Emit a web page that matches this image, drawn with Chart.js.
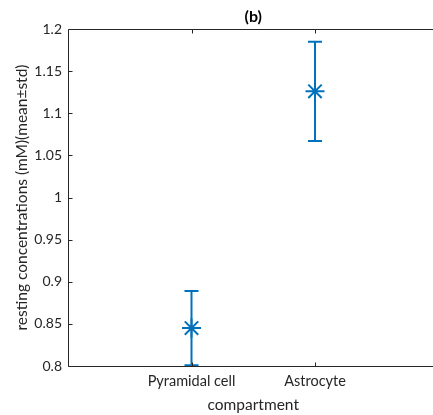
<!DOCTYPE html>
<html>
<head>
<meta charset="utf-8">
<script src="https://cdn.jsdelivr.net/npm/chart.js@4.4.1/dist/chart.umd.min.js"></script>
<style>
  html, body { margin: 0; padding: 0; background: #fff; overflow: hidden; }
  #wrap { width: 433px; height: 415px; overflow: hidden; }
</style>
</head>
<body>
<div id="wrap"><canvas id="chart" width="450" height="415"></canvas></div>
<script>
// data
const categories = ['Pyramidal cell', 'Astrocyte'];
const positions = [1, 2];
const means = [0.845, 1.126];
const stds = [0.044, 0.059];
const yTicks = [0.8, 0.85, 0.9, 0.95, 1, 1.05, 1.1, 1.15, 1.2];

const blue = '#0072BD';
const axisGray = '#262626';
const font = 'Lato';

// vertical error bars with caps, drawn through the scales
const errorBars = {
    id: 'errorBars',
    beforeDatasetsDraw(chart) {
        const ctx = chart.ctx, xs = chart.scales.x, ys = chart.scales.y;
        ctx.save();
        ctx.strokeStyle = blue;
        ctx.lineWidth = 2;
        positions.forEach(function(p, i){
            const x = xs.getPixelForValue(p);
            const yTop = ys.getPixelForValue(means[i] + stds[i]);
            const yBot = ys.getPixelForValue(means[i] - stds[i]);
            ctx.beginPath();
            ctx.moveTo(x, yTop); ctx.lineTo(x, yBot);
            ctx.moveTo(x - 7, yTop); ctx.lineTo(x + 7, yTop);
            ctx.moveTo(x - 7, yBot); ctx.lineTo(x + 7, yBot);
            ctx.stroke();
        });
        ctx.restore();
    }
};

// MATLAB-like box with inward ticks
const frame = {
    id: 'frame',
    afterDraw(chart) {
        const ctx = chart.ctx, a = chart.chartArea;
        const xs = chart.scales.x, ys = chart.scales.y;
        const L = Math.round(a.left) + 0.5, R = Math.round(a.right) + 0.5;
        const T = Math.round(a.top) + 0.5, B = Math.round(a.bottom) + 0.5;
        ctx.save();
        ctx.strokeStyle = axisGray;
        ctx.lineWidth = 1;
        ctx.beginPath();
        ctx.moveTo(R, T); ctx.lineTo(L, T); ctx.lineTo(L, B); ctx.lineTo(R, B);
        positions.forEach(function(p){
            const x = Math.round(xs.getPixelForValue(p)) + 0.5;
            ctx.moveTo(x, B); ctx.lineTo(x, B - 4);
            ctx.moveTo(x, T); ctx.lineTo(x, T + 4);
        });
        yTicks.forEach(function(v){
            const y = Math.round(ys.getPixelForValue(v)) + 0.5;
            ctx.moveTo(L, y); ctx.lineTo(L + 4, y);
            ctx.moveTo(R, y); ctx.lineTo(R - 4, y);
        });
        ctx.stroke();
        ctx.restore();
    }
};

new Chart(document.getElementById('chart'), {
    type: 'scatter',
    data: {
        datasets: [{
            data: positions.map((p, i) => ({x: p, y: means[i]})),
            pointStyle: 'star',
            pointRadius: 9.5,
            pointBorderWidth: 2,
            borderColor: blue,
            backgroundColor: blue,
            showLine: false
        }]
    },
    options: {
        responsive: false,
        animation: false,
        devicePixelRatio: 1,
        layout: { padding: { left: 0, right: 9, top: 0, bottom: 0 } },
        plugins: {
            legend: { display: false },
            tooltip: { enabled: false },
            title: {
                display: true,
                text: '(b)',
                fullSize: false,
                color: '#000',
                font: { family: font, size: 16, weight: 'bold' },
                padding: { top: 7, bottom: 2.8 }
            }
        },
        scales: {
            x: {
                type: 'linear',
                min: 0,
                max: 3,
                afterBuildTicks: function(scale){
                    scale.ticks = positions.map(p => ({value: p}));
                },
                afterFit: function(scale){ scale.height = 49; },
                grid: { display: false, drawTicks: false },
                border: { display: false },
                ticks: {
                    callback: function(v){ return categories[positions.indexOf(v)]; },
                    color: axisGray,
                    font: { family: font, size: 14.5 },
                    padding: 7,
                    maxRotation: 0,
                    autoSkip: false
                },
                title: {
                    display: true,
                    text: 'compartment',
                    color: axisGray,
                    font: { family: font, size: 15.5 },
                    padding: { top: 0, bottom: 0.7 }
                }
            },
            y: {
                min: 0.8,
                max: 1.2,
                afterBuildTicks: function(scale){
                    scale.ticks = yTicks.map(v => ({value: v}));
                },
                afterFit: function(scale){ scale.width = 68; },
                grid: { display: false, drawTicks: false },
                border: { display: false },
                ticks: {
                    callback: function(v){ return String(+v.toFixed(2)); },
                    color: axisGray,
                    font: { family: font, size: 14 },
                    padding: 6
                },
                title: {
                    display: true,
                    text: 'resting concentrations (mM)(mean\u00b1std)',
                    color: axisGray,
                    font: { family: font, size: 15.5 },
                    padding: { top: 12.7, bottom: 0 }
                }
            }
        }
    },
    plugins: [errorBars, frame]
});
</script>
</body>
</html>
